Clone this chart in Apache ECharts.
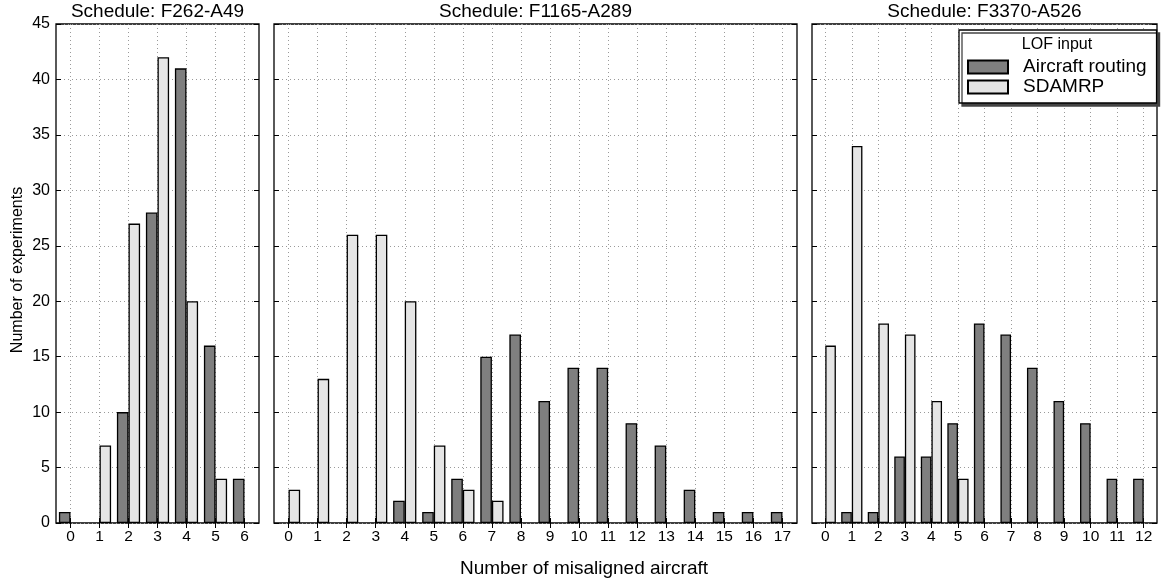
<!DOCTYPE html>
<html>
<head>
<meta charset="utf-8">
<script src="https://cdn.jsdelivr.net/npm/echarts@6/dist/echarts.min.js"></script>
<style>
  html, body { margin: 0; padding: 0; background: #fff; }
  #chart { width: 1161px; height: 585px; }
</style>
</head>
<body>
<div id="chart"></div>
<script>
// ---- data ----
const titles = ['Schedule: F262-A49', 'Schedule: F1165-A289', 'Schedule: F3370-A526'];
const seriesNames = ['Aircraft routing', 'SDAMRP'];
const categories1 = ['0', '1', '2', '3', '4', '5', '6'];
const categories2 = ['0', '1', '2', '3', '4', '5', '6', '7', '8', '9', '10', '11', '12', '13', '14', '15', '16', '17'];
const categories3 = ['0', '1', '2', '3', '4', '5', '6', '7', '8', '9', '10', '11', '12'];
const routing1 = [1, 0, 10, 28, 41, 16, 4];
const sdamrp1 = [0, 7, 27, 42, 20, 4, 0];
const routing2 = [0, 0, 0, 0, 2, 1, 4, 15, 17, 11, 14, 14, 9, 7, 3, 1, 1, 1];
const sdamrp2 = [3, 13, 26, 26, 20, 7, 3, 2, 0, 0, 0, 0, 0, 0, 0, 0, 0, 0];
const routing3 = [0, 1, 1, 6, 6, 9, 18, 17, 14, 11, 9, 4, 4];
const sdamrp3 = [16, 34, 18, 17, 11, 4, 0, 0, 0, 0, 0, 0, 0];
const yTicks = { min: 0, max: 45, interval: 5 };
const xLabelText = 'Number of misaligned aircraft';
const yLabelText = 'Number of experiments';
const legendTitle = 'LOF input';

// ---- layout / style ----
const FONT = 'Liberation Sans, Arial, Helvetica, sans-serif';
const grids = [
  { left: 56, top: 24, width: 203, height: 499 },
  { left: 274, top: 24, width: 523, height: 499 },
  { left: 812, top: 24, width: 345, height: 499 }
];
const cats = [categories1, categories2, categories3];
const routing = [routing1, routing2, routing3];
const sdamrp = [sdamrp1, sdamrp2, sdamrp3];
const darkColor = '#7f7f7f';
const lightColor = '#e5e5e5';
const gridLineStyle = { color: '#9a9a9a', type: [1, 3], width: 1 };
const tickFont = 15.5;
// zero-height bars draw nothing visible in the reference
const toBars = arr => arr.map(v => (v === 0 ? null : v));

const xAxes = [];
const yAxes = [];
const series = [];
grids.forEach((g, i) => {
  xAxes.push({
    type: 'category', gridIndex: i, data: cats[i], position: 'bottom',
    boundaryGap: true,
    axisLine: { show: false },
    axisTick: { show: true, inside: true, alignWithLabel: true, length: 5, lineStyle: { color: '#000' } },
    axisLabel: { show: true, color: '#000', fontSize: tickFont, fontFamily: FONT, margin: 6, interval: 0 },
    splitLine: { show: true, alignWithLabel: true, interval: 0, lineStyle: gridLineStyle }
  });
  yAxes.push({
    type: 'value', gridIndex: i, min: yTicks.min, max: yTicks.max, interval: yTicks.interval,
    position: 'left',
    axisLine: { show: false },
    axisTick: { show: true, inside: true, length: 5, lineStyle: { color: '#000' } },
    axisLabel: { show: i === 0, color: '#000', fontSize: 16, fontFamily: FONT, margin: 6 },
    splitLine: { show: true, lineStyle: gridLineStyle }
  });
});
grids.forEach((g, i) => {
  xAxes.push({
    type: 'category', gridIndex: i, data: cats[i], position: 'top',
    boundaryGap: true,
    axisLine: { show: false },
    axisTick: { show: true, inside: true, alignWithLabel: true, length: 5, interval: 0, lineStyle: { color: '#000' } },
    axisLabel: { show: false },
    splitLine: { show: false }
  });
  yAxes.push({
    type: 'value', gridIndex: i, min: yTicks.min, max: yTicks.max, interval: yTicks.interval,
    position: 'right',
    axisLine: { show: false },
    axisTick: { show: true, inside: true, length: 5, lineStyle: { color: '#000' } },
    axisLabel: { show: false },
    splitLine: { show: false }
  });
});
grids.forEach((g, i) => {
  series.push({
    name: seriesNames[0], type: 'bar', xAxisIndex: i, yAxisIndex: i,
    data: toBars(routing[i]), barGap: '0%', barCategoryGap: '20%',
    itemStyle: { color: darkColor, borderColor: '#000', borderWidth: 1.3 }
  });
  series.push({
    name: seriesNames[1], type: 'bar', xAxisIndex: i, yAxisIndex: i,
    data: toBars(sdamrp[i]), barGap: '0%', barCategoryGap: '20%',
    itemStyle: { color: lightColor, borderColor: '#000', borderWidth: 1.3 }
  });
});

const graphics = [];
grids.forEach((g, i) => {
  graphics.push({
    type: 'text', x: g.left + g.width / 2, y: 12, z: 100,
    style: { text: titles[i], fontSize: 19, fontFamily: FONT, fill: '#000', textAlign: 'center', textVerticalAlign: 'middle' }
  });
});
graphics.push({
  type: 'text', x: 584, y: 569, z: 100,
  style: { text: xLabelText, fontSize: 19, fontFamily: FONT, fill: '#000', textAlign: 'center', textVerticalAlign: 'middle' }
});
graphics.push({
  type: 'text', x: 17.5, y: 270, z: 100, rotation: Math.PI / 2,
  style: { text: yLabelText, fontSize: 16, fontFamily: FONT, fill: '#000', textAlign: 'center', textVerticalAlign: 'middle' }
});
graphics.push({
  type: 'text', x: 1057, y: 45, z: 100,
  style: { text: legendTitle, fontSize: 16, fontFamily: FONT, fill: '#000', textAlign: 'center', textVerticalAlign: 'middle' }
});

const option = {
  animation: false,
  backgroundColor: '#fff',
  grid: grids.map(g => Object.assign({ show: true, borderColor: '#000', borderWidth: 1.3, backgroundColor: 'transparent', containLabel: false }, g)),
  xAxis: xAxes,
  yAxis: yAxes,
  series: series,
  legend: {
    data: seriesNames,
    orient: 'vertical',
    left: 959, top: 30,
    itemWidth: 40, itemHeight: 13, itemGap: 0,
    icon: 'rect',
    selectedMode: false,
    padding: [27, 10, 6, 8],
    backgroundColor: '#fff',
    borderColor: '#000', borderWidth: 1.3, borderRadius: 0,
    shadowColor: '#444', shadowOffsetX: 3, shadowOffsetY: 3, shadowBlur: 0,
    textStyle: { fontSize: 19, fontFamily: FONT, color: '#000', lineHeight: 20, padding: [0, 0, 0, 10] },
    z: 10
  },
  graphic: graphics
};

const chart = echarts.init(document.getElementById('chart'), null, { renderer: 'canvas' });
chart.setOption(option);
</script>
</body>
</html>
